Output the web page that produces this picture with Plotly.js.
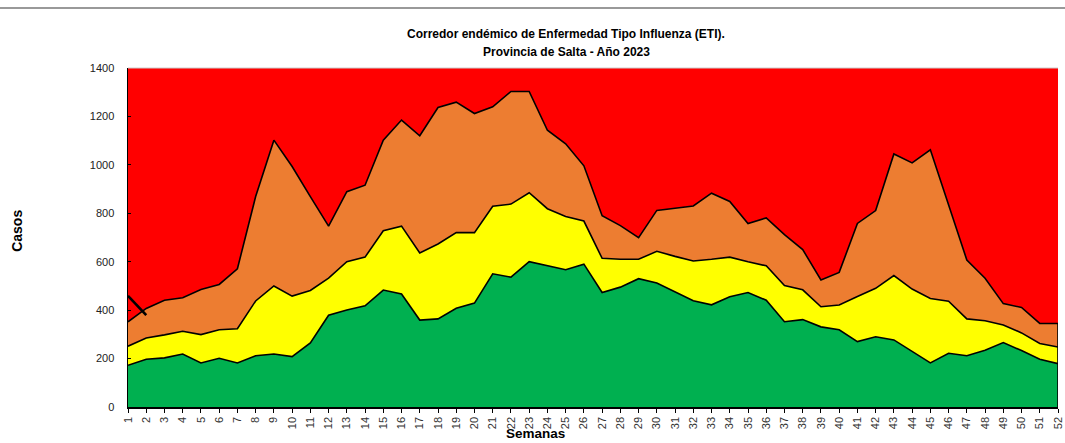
<!DOCTYPE html>
<html>
<head>
<meta charset="utf-8">
<script src="https://cdn.plot.ly/plotly-3.0.1.min.js"></script>
<style>html,body{margin:0;padding:0;background:#fff;}#chart{width:1065px;height:443px;}</style>
</head>
<body>
<div id="chart"></div>
<script>
const semanas = Array.from({length: 52}, (_, i) => i + 1);
const tickLabels = semanas.map(String);

const exito = [172,197,203,219,182,201,182,212,219,208,265,379,401,418,483,467,359,364,408,429,550,536,600,585,567,590,473,495,530,512,477,439,422,455,473,441,352,361,331,319,270,290,277,230,182,222,212,234,266,233,197,179];
const seguridad = [251,285,298,313,299,319,323,438,500,458,481,532,600,619,728,747,636,673,720,720,829,838,885,819,787,768,614,610,610,643,622,603,610,619,600,583,502,484,414,421,456,490,543,487,448,437,364,356,339,306,262,248];
const alerta = [352,407,441,451,485,506,571,869,1102,993,869,747,889,916,1102,1185,1120,1237,1259,1212,1240,1303,1303,1143,1087,996,790,749,699,812,821,830,883,849,758,781,712,650,525,556,758,811,1045,1008,1062,838,607,532,427,411,345,345];
const brote = semanas.map(() => 1400);
const casos2023 = [459, 379];
const semanasCasos = [1, 2];

const titulo1 = 'Corredor endémico de Enfermedad Tipo Influenza (ETI).';
const titulo2 = 'Provincia de Salta - Año 2023';

const last = semanas.length - 1;
const line = {color: '#000', width: 1.6};
const traces = [
  {x: semanas, y: exito, type: 'scatter', mode: 'lines', fill: 'tozeroy', fillcolor: '#00B050', line: line, name: 'Éxito'},
  {x: semanas, y: seguridad, type: 'scatter', mode: 'lines', fill: 'tonexty', fillcolor: '#FFFF00', line: line, name: 'Seguridad'},
  {x: semanas, y: alerta, type: 'scatter', mode: 'lines', fill: 'tonexty', fillcolor: '#ED7D31', line: line, name: 'Alerta'},
  {x: semanas, y: brote, type: 'scatter', mode: 'lines', fill: 'tonexty', fillcolor: '#FF0000', line: {width: 0}, name: 'Brote'},
  {x: [semanas[last], semanas[last]], y: [0, alerta[last]], type: 'scatter', mode: 'lines', line: {color: '#000', width: 1.6}, name: 'borde', cliponaxis: false},
  {x: semanasCasos, y: casos2023, type: 'scatter', mode: 'lines', line: {color: '#000', width: 2.6}, name: 'Casos 2023'}
];

const layout = {
  width: 1065, height: 443,
  margin: {l: 128, r: 7, t: 68, b: 36},
  paper_bgcolor: '#fff', plot_bgcolor: '#fff',
  showlegend: false,
  font: {family: 'Liberation Sans, Arial, sans-serif', color: '#222'},
  xaxis: {
    range: [1, 52], tickmode: 'array', tickvals: semanas, ticktext: tickLabels,
    tickangle: -90, tickfont: {size: 11, color: '#333'},
    ticks: 'outside', ticklen: 4, tickcolor: '#000',
    showline: true, linecolor: '#000', linewidth: 1.5,
    showgrid: false, zeroline: false, fixedrange: true,
    ticklabeloverflow: 'allow'
  },
  yaxis: {
    range: [0, 1400], tickvals: [0,200,400,600,800,1000,1200,1400],
    tickfont: {size: 11, color: '#222'},
    ticks: 'inside', ticklen: 3, tickcolor: '#000',
    showline: true, linecolor: '#000', linewidth: 1.5,
    showgrid: false, zeroline: false, fixedrange: true, ticklabelstandoff: 10
  },
  annotations: [
    {text: '<b>' + titulo1 + '</b>', xref: 'paper', yref: 'paper', x: 0.471, y: (407 - 25) / 339, showarrow: false, font: {size: 12, color: '#000'}},
    {text: '<b>' + titulo2 + '</b>', xref: 'paper', yref: 'paper', x: 0.471, y: (407 - 43) / 339, showarrow: false, font: {size: 12, color: '#000'}},
    {text: '<b>Casos</b>', xref: 'paper', yref: 'paper', x: -0.13, y: 0.52, textangle: -90, showarrow: false, font: {size: 14, color: '#000'}},
    {text: '<b>Semanas</b>', xref: 'paper', yref: 'paper', x: 0.438, y: (407 - 443) / 339, yanchor: 'bottom', showarrow: false, font: {size: 13.5, color: '#000'}}
  ],
  shapes: [
    {type: 'line', xref: 'paper', yref: 'paper', layer: 'above', x0: -0.14, x1: 1.01, y0: (407 - 8) / 339, y1: (407 - 8) / 339, line: {color: '#777', width: 1.5}},
    {type: 'line', xref: 'paper', yref: 'paper', layer: 'above', x0: 0, x1: 1, y0: 1, y1: 1, line: {color: '#ccc', width: 1}}
  ]
};

Plotly.newPlot('chart', traces, layout, {displayModeBar: false, staticPlot: true});
</script>
</body>
</html>
